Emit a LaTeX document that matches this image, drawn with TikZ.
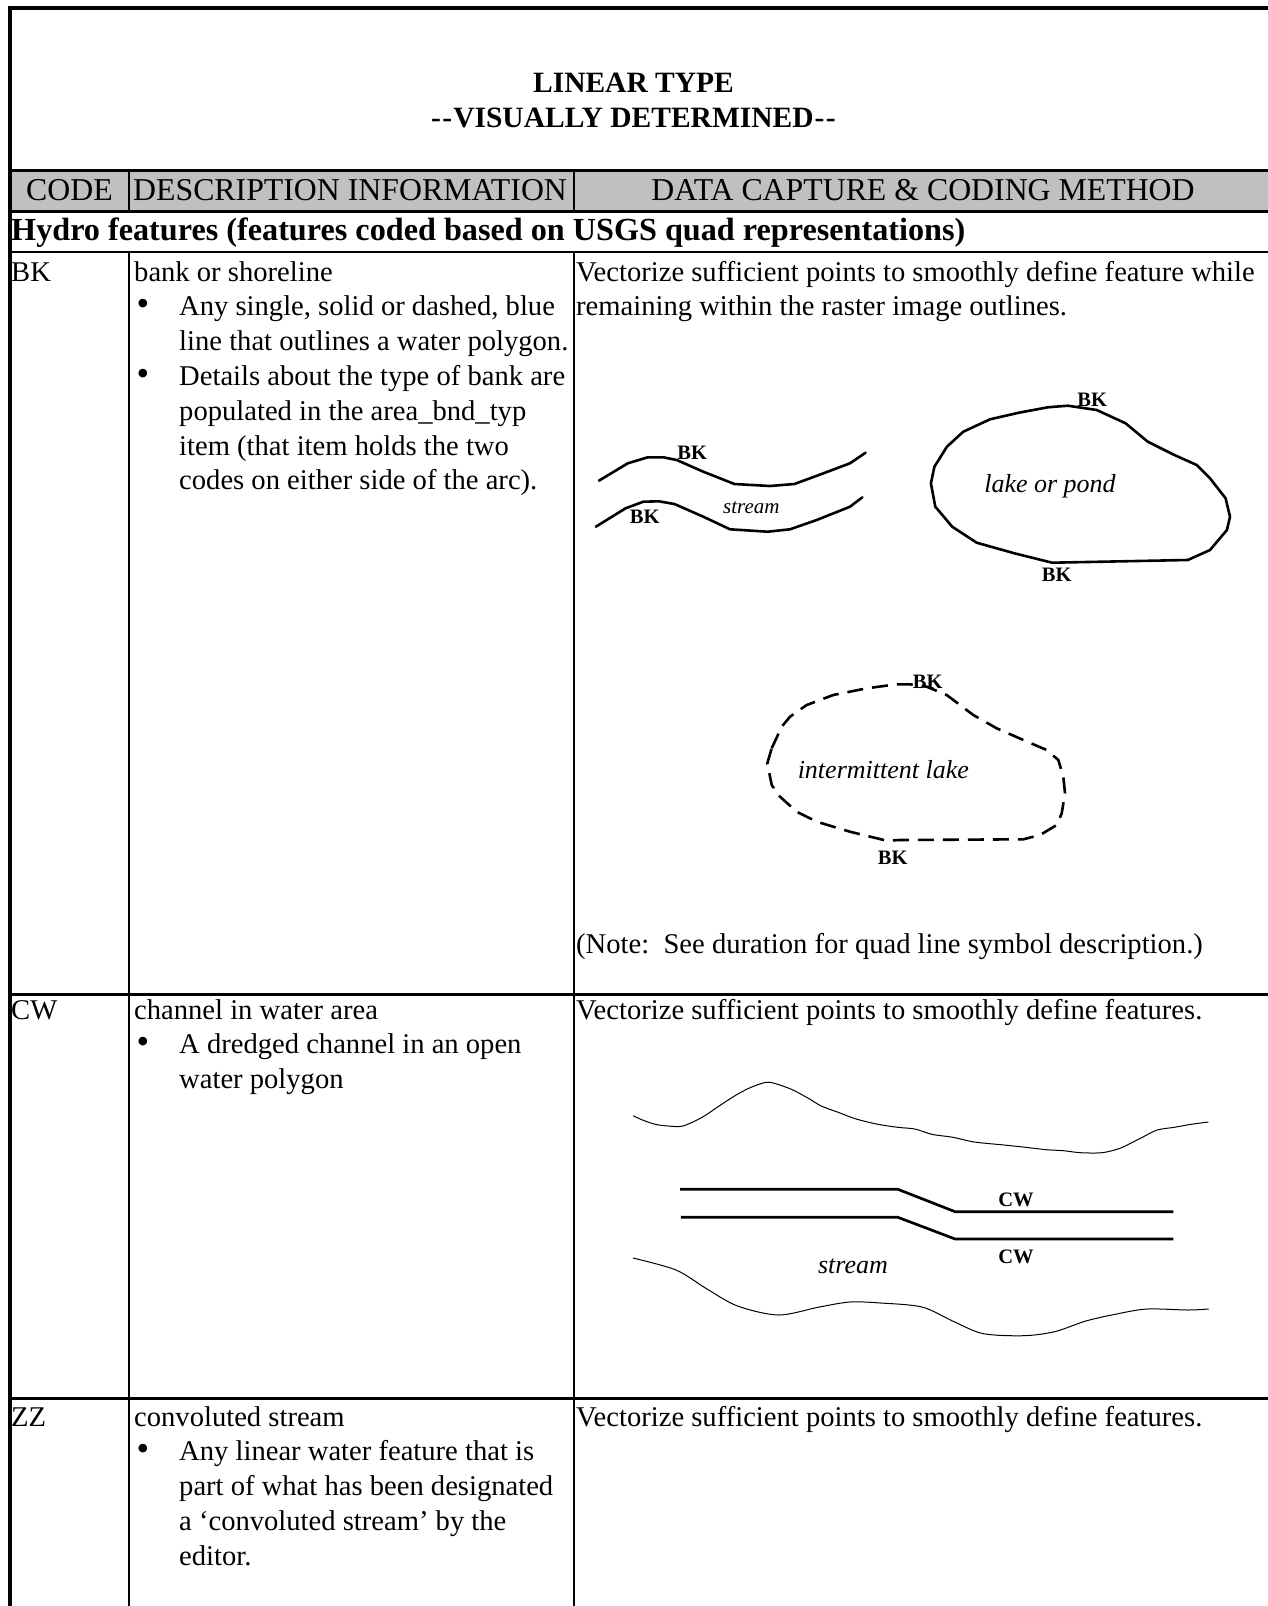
\documentclass[tikz,border=0pt]{standalone}
\usepackage{fontspec}
\setmainfont{Liberation Serif}
\definecolor{hdrgray}{RGB}{192,192,192}
\begin{document}
\begin{tikzpicture}[x=1pt,y=-1pt,
  ttl/.style={font=\fontsize{29.5}{33}\selectfont\bfseries, anchor=base, inner sep=0pt},
  hdrtxt/.style={font=\fontsize{31.8}{36}\selectfont, inner sep=0pt},
  hydrotxt/.style={font=\fontsize{32.2}{36}\selectfont\bfseries, anchor=base west, inner sep=0pt},
  bodytxt/.style={font=\fontsize{28.6}{34.8}\selectfont, anchor=base west, inner sep=0pt},
  bul/.style={font=\fontsize{36}{34.8}\selectfont, anchor=base, inner sep=0pt},
  lbl/.style={font=\fontsize{20.5}{24}\selectfont\bfseries, inner sep=0pt},
  itl/.style={font=\fontsize{26}{30}\selectfont\itshape, inner sep=0pt},
  itlsmall/.style={font=\fontsize{21}{24}\selectfont\itshape, inner sep=0pt},
  bankline/.style={line width=2.6pt, line join=round, line cap=round},
  shoreline/.style={line width=1pt, line join=round},
  frameline/.style={line width=4pt},
  rowline/.style={line width=3pt},
  thinline/.style={line width=1.6pt},
  colline/.style={line width=2pt}
]
\useasboundingbox (0,0) rectangle (1267,1606);
% header fill
\fill[hdrgray] (10,170.5) rectangle (1268,211.5);
% frame
\draw[frameline] (10,8) -- (1268,8);
\draw[frameline] (10,6) -- (10,1608);
\draw[rowline] (8,170.5) -- (1268,170.5);
\draw[rowline] (8,211.5) -- (1268,211.5);
\draw[thinline] (8,252) -- (1268,252);
\draw[rowline] (8,994.5) -- (1268,994.5);
\draw[rowline] (8,1398) -- (1268,1398);
% column lines
\draw[colline] (129.3,170.5) -- (129.3,211.5);
\draw[colline] (574,170.5) -- (574,211.5);
\draw[colline] (129.3,252) -- (129.3,1608);
\draw[colline] (574,252) -- (574,1608);

% title
\node[ttl] (t1) at (633.5,92) {LINEAR TYPE};
\node[ttl] (t2) at (633.5,127) {-\kern1.5pt-\kern1pt VISUALLY DETERMINED\kern1pt-\kern1.5pt-};
% header
\node[hdrtxt, anchor=base] (hcode) at (69.5,200) {CODE};
\node[hdrtxt, anchor=base west] (hdesc) at (133,200) {DESCRIPTION INFORMATION};
\node[hdrtxt, anchor=base] (hdata) at (923,200) {DATA CAPTURE \& CODING METHOD};
% hydro
\node[hydrotxt] (hydro) at (11,240) {Hydro features (features coded based on USGS quad representations)};

% BK row
\node[bodytxt] (bkcode) at (11,281) {BK};
\node[bodytxt] (bkd1) at (134,281) {bank or shoreline};
\node[bul] (bkb1) at (143,315.8) {•};
\node[bodytxt] (bkd2) at (179,315.8) {Any single, solid or dashed, blue};
\node[bodytxt] (bkd3) at (179,350.6) {line that outlines a water polygon.};
\node[bul] (bkb2) at (143,385.4) {•};
\node[bodytxt] (bkd4) at (179,385.4) {Details about the type of bank are};
\node[bodytxt] (bkd5) at (179,420.2) {populated in the area\_bnd\_typ};
\node[bodytxt] (bkd6) at (179,455) {item (that item holds the two};
\node[bodytxt] (bkd7) at (179,489.8) {codes on either side of the arc).};
\node[bodytxt] (bkm1) at (576,281) {Vectorize sufficient points to smoothly define feature while};
\node[bodytxt] (bkm2) at (576,315.8) {remaining within the raster image outlines.};
\node[bodytxt] (bknote) at (576,953) {(Note:\ \ See duration for quad line symbol description.)};

% stream banks
\draw[bankline] (598.9,480.7) -- (627.8,463.3) -- (647.8,457.3) -- (663.3,457.3) -- (676.7,460) -- (703.3,471.7) -- (734.4,484) -- (770,486) -- (794.4,484) -- (818.9,475) -- (850,463.3) -- (865.6,452.7);
\draw[bankline] (595.8,526.7) -- (625.6,508.3) -- (643.3,501.7) -- (658.9,501.3) -- (674.4,504) -- (703.3,516.7) -- (730,529.3) -- (767.8,531.7) -- (790,529.3) -- (816.7,520) -- (850,506.7) -- (862.4,497.3);
\node[lbl] (sbk1) at (692.2,453) {BK};
\node[lbl] (sbk2) at (644.7,516.5) {BK};
\node[itlsmall] (stream1) at (751.3,507.5) {stream};

% lake
\draw[bankline] (1096.7,410) -- (1125.6,423.3) -- (1147.8,441.7) -- (1174.4,455) -- (1196.7,465) -- (1210,478.3) -- (1225.6,498.3) -- (1230,516.7) -- (1226.9,530) -- (1210,550) -- (1187.8,560) -- (1052.2,562.7) -- (1014.4,553.3) -- (976.7,542.7) -- (952.2,526.7) -- (935.3,506.7) -- (930.9,483.3) -- (934.4,466.7) -- (946.9,446.7) -- (963.3,431.7) -- (990,419.3) -- (1018.9,412.7) -- (1047.8,407.3) -- (1067.8,405.7) -- cycle;
\node[lbl] (lbk1) at (1092.2,400) {BK};
\node[lbl] (lbk2) at (1056.7,575) {BK};
\node[itl] (lake) at (1050,486.7) {lake or pond};

% intermittent lake
\draw[bankline, line cap=butt, dash pattern=on 16pt off 9pt] (771.7,748.3) -- (781.7,726.7) -- (790,716.7) -- (806.7,705) -- (833.3,695) -- (866.7,688.3) -- (896.7,684.3) -- (910,684.3) -- (926.7,686.7) -- (946.7,695) -- (973.3,715) -- (996.7,728.3) -- (1023.3,740) -- (1046.7,750) -- (1058.3,760) -- (1063.3,776.7) -- (1065,793.3) -- (1061.7,813.3) -- (1056.7,825) -- (1040,835) -- (1023.3,839.3) -- (900,840) -- (886.7,840.7) -- (850,831.7) -- (816.7,821.7) -- (796.7,811.7) -- (780,796.7) -- (771.7,785) -- (767.3,763.3) -- cycle;
\node[lbl] (ibk1) at (927.7,681.7) {BK};
\node[lbl] (ibk2) at (892.7,858.3) {BK};
\node[itl] (ilake) at (883.3,770) {intermittent lake};

% CW row
\node[bodytxt] (cwcode) at (11,1019) {CW};
\node[bodytxt] (cwd1) at (134,1019) {channel in water area};
\node[bul] (cwb1) at (143,1053.8) {•};
\node[bodytxt] (cwd2) at (179,1053.8) {A dredged channel in an open};
\node[bodytxt] (cwd3) at (179,1088.6) {water polygon};
\node[bodytxt] (cwm1) at (576,1019) {Vectorize sufficient points to smoothly define features.};

\draw[shoreline] plot[smooth] coordinates {(633.2,1115.7) (642.5,1120) (655.3,1124.3) (668.1,1126) (682.9,1126) (702.1,1117.3) (719.1,1106) (736.1,1095) (751,1087.3) (765.9,1082.3) (774.4,1083.3) (791.4,1089.3) (808.4,1098.3) (821.2,1106) (838.2,1112.3) (855.2,1118.7) (876.5,1124) (897.7,1127.3) (914.8,1129) (931.8,1134.3) (953,1137.3) (974.3,1142) (1004.1,1145) (1025.4,1147.3) (1046.6,1149.7) (1063.6,1150.7) (1080.6,1152.7) (1101.9,1152.7) (1118.9,1148.7) (1131.7,1142.7) (1142.3,1137.3) (1157.2,1130) (1174.2,1127.3) (1191.2,1124.3) (1208.3,1122)};
\draw[shoreline] plot[smooth] coordinates {(633,1258) (676,1270) (707,1289) (737.5,1306) (778.5,1315) (819.4,1307) (850,1302) (881,1303) (922,1307) (952.6,1321) (983,1333.6) (1024,1335.7) (1055,1331.6) (1085.8,1321) (1116.5,1314) (1147,1309) (1188,1310) (1208.7,1309)};

\draw[line width=2.7pt] (680,1189.3) -- (897.9,1189.3) -- (955.1,1211.7) -- (1173.4,1211.7);
\draw[line width=2.7pt] (680.8,1217.3) -- (897.9,1217.3) -- (955.1,1239) -- (1173.4,1239);
\node[lbl] (cw1) at (1016,1200) {CW};
\node[lbl] (cw2) at (1016,1256.7) {CW};
\node[itl] (stream2) at (853,1266) {stream};

% ZZ row
\node[bodytxt] (zzcode) at (11,1426) {ZZ};
\node[bodytxt] (zzd1) at (134,1426) {convoluted stream};
\node[bul] (zzb1) at (143,1460.8) {•};
\node[bodytxt] (zzd2) at (179,1460.8) {Any linear water feature that is};
\node[bodytxt] (zzd3) at (179,1495.6) {part of what has been designated};
\node[bodytxt] (zzd4) at (179,1530.4) {a ‘convoluted stream’ by the};
\node[bodytxt] (zzd5) at (179,1565.2) {editor.};
\node[bodytxt] (zzm1) at (576,1426) {Vectorize sufficient points to smoothly define features.};
\end{tikzpicture}
\end{document}
